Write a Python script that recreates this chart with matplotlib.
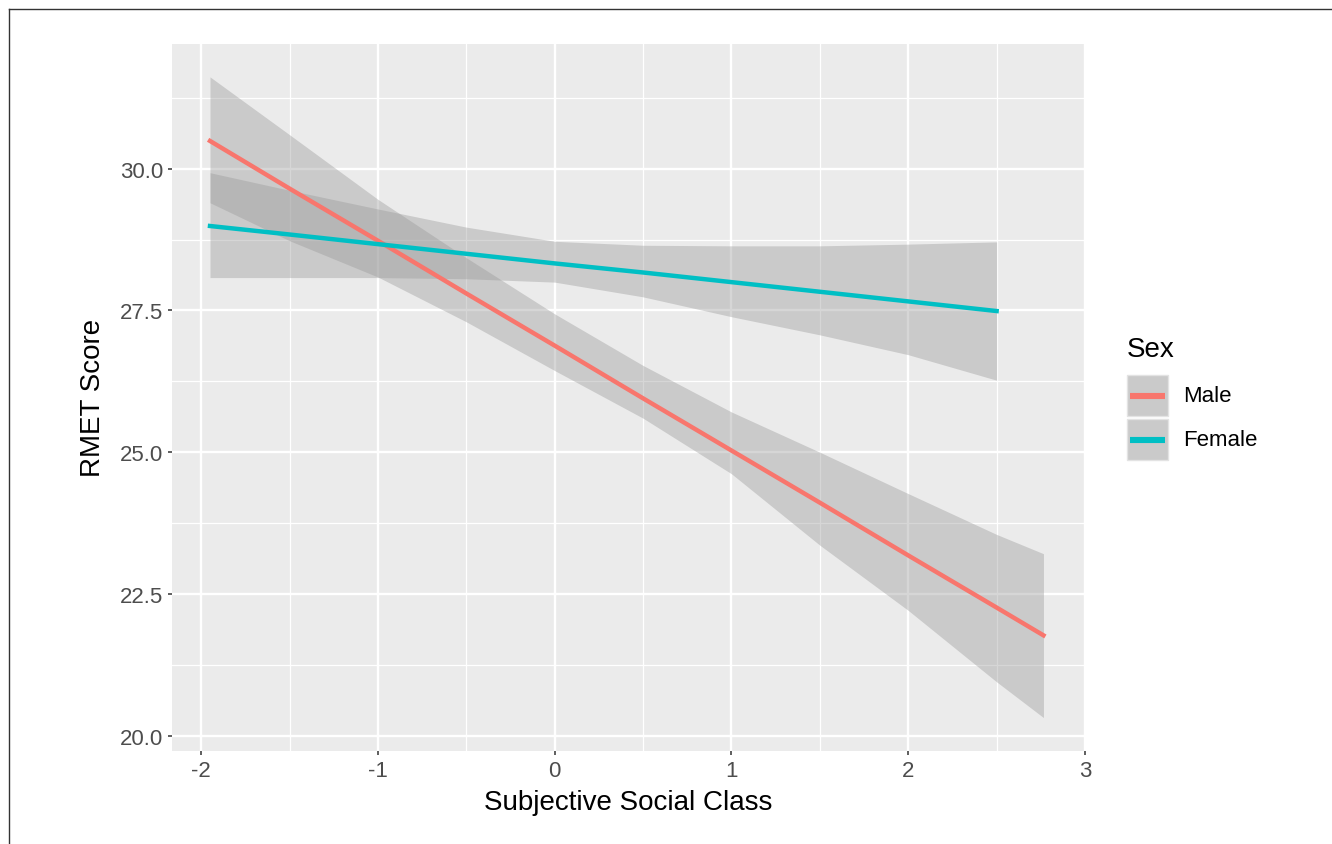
import matplotlib.pyplot as plt
from matplotlib.lines import Line2D
from matplotlib.patches import Rectangle

plt.rcParams['font.family'] = ['Liberation Sans', 'DejaVu Sans']
plt.rcParams['axes.unicode_minus'] = False

## values (predicted RMET with 95% band)
male_x = [-1.95, -1.5, -1.0, -0.5, 0.0, 0.5, 1.0, 1.5, 2.0, 2.5, 2.765]
male_fit = [30.49, 29.65, 28.73, 27.80, 26.88, 25.95, 25.03, 24.11, 23.18, 22.26, 21.77]
male_hi = [31.62, 30.60, 29.46, 28.43, 27.44, 26.53, 25.71, 25.00, 24.27, 23.55, 23.21]
male_lo = [29.40, 28.73, 28.09, 27.30, 26.44, 25.60, 24.62, 23.36, 22.21, 20.95, 20.32]

female_x = [-1.95, -1.5, -1.0, -0.5, 0.0, 0.5, 1.0, 1.5, 2.0, 2.5]
female_fit = [28.99, 28.84, 28.67, 28.50, 28.33, 28.17, 28.00, 27.83, 27.66, 27.49]
female_hi = [29.93, 29.62, 29.29, 28.97, 28.72, 28.65, 28.64, 28.64, 28.67, 28.71]
female_lo = [28.08, 28.08, 28.08, 28.06, 28.00, 27.74, 27.39, 27.07, 26.72, 26.27]

sexes = ['Male', 'Female']
colors = ['#F8766D', '#00BFC4']

x_major = [-2, -1, 0, 1, 2, 3]
x_minor = [-1.5, -0.5, 0.5, 1.5, 2.5]
y_major = [20.0, 22.5, 25.0, 27.5, 30.0]
y_minor = [21.25, 23.75, 26.25, 28.75, 31.25]

W, H = 1332, 845
fig = plt.figure(figsize=(W / 100, H / 100), dpi=100)
ax = fig.add_axes([172 / W, 1 - 752 / H, (1085 - 172) / W, (752 - 45) / H])
ax.set_facecolor('#EBEBEB')

ax.fill_between(male_x, male_lo, male_hi, color='#999999', alpha=0.4, lw=0, zorder=2)
ax.fill_between(female_x, female_lo, female_hi, color='#999999', alpha=0.4, lw=0, zorder=2)
ax.plot(male_x, male_fit, color=colors[0], lw=3.2, zorder=3)
ax.plot(female_x, female_fit, color=colors[1], lw=3.2, zorder=3)

ax.set_xlim(-2.165, 2.995)
ax.set_ylim(19.73, 32.2)
ax.set_xticks(x_major)
ax.set_xticks(x_minor, minor=True)
ax.set_yticks(y_major)
ax.set_yticks(y_minor, minor=True)
ax.set_xticklabels([str(v) for v in x_major])
ax.set_yticklabels(['%.1f' % v for v in y_major])

ax.set_axisbelow(True)
ax.grid(which='major', color='white', lw=1.7)
ax.grid(which='minor', color='white', lw=0.9)
for s in ax.spines.values():
    s.set_visible(False)
ax.tick_params(which='major', length=3.2, width=1.1, color='#333333',
               labelcolor='#4D4D4D', labelsize=16, pad=3)
ax.tick_params(which='minor', length=0)

fig.text(628 / W, 1 - 803 / H, 'Subjective Social Class', fontsize=20,
         ha='center', va='center')
fig.text(93 / W, 1 - 398 / H, 'RMET Score', fontsize=20, rotation=90,
         ha='center', va='center')

## legend drawn by hand, ggplot style
fig.text(1127 / W, 1 - 350 / H, 'Sex', fontsize=20, ha='left', va='center')
for i, (lab, col) in enumerate(zip(sexes, colors)):
    top = 376 + i * 44
    fig.add_artist(Rectangle((1127 / W, 1 - (top + 41) / H), 41 / W, 41 / H,
                             transform=fig.transFigure, facecolor='#CACACA',
                             edgecolor='#E3E3E3', lw=1))
    yc = 1 - (top + 21) / H
    fig.add_artist(Line2D([1130 / W, 1165 / W], [yc, yc], transform=fig.transFigure,
                          color=col, lw=4.4, solid_capstyle='butt'))
    fig.text(1183 / W, yc, lab, fontsize=16, ha='left', va='center')

## outer frame (left and top only are visible)
fig.add_artist(Line2D([8.5 / W, 8.5 / W], [0, 1 - 9.5 / H], transform=fig.transFigure,
                      color='#333333', lw=1))
fig.add_artist(Line2D([8.5 / W, 1], [1 - 9.5 / H, 1 - 9.5 / H], transform=fig.transFigure,
                      color='#333333', lw=1))

fig.savefig('out.png', dpi=100)
